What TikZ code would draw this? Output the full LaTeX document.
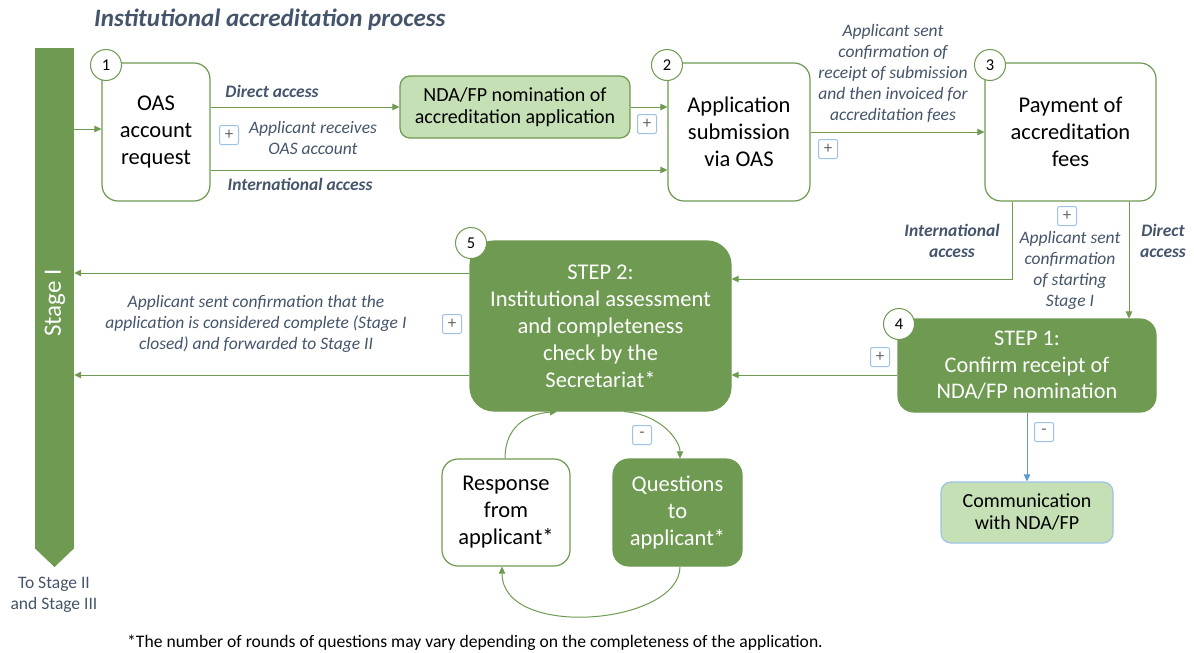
\documentclass[tikz,border=0pt]{standalone}
\usepackage{fontspec}
\setmainfont{Carlito}
\usetikzlibrary{arrows.meta,calc}
\definecolor{gr}{HTML}{6E9A51}
\definecolor{lgr}{HTML}{C5E0B4}
\definecolor{slate}{HTML}{44546A}
\definecolor{lblue}{HTML}{9DC3E6}
\definecolor{blu}{HTML}{5B9BD5}
\tikzset{
  box/.style={draw=gr, line width=1.2pt, fill=white, rounded corners=16pt, align=center, inner sep=0pt, font=\fontsize{22.5}{27}\selectfont},
  gbox/.style={box, fill=gr, text=white},
  lbox/.style={box, fill=lgr, rounded corners=10pt, font=\fontsize{20}{22}\selectfont},
  num/.style={circle, draw=gr, line width=1pt, fill=white, minimum size=31pt, inner sep=0pt, font=\fontsize{16.5}{16.5}\selectfont},
  pbox/.style={draw=lblue, line width=1pt, rounded corners=2pt, fill=white, minimum width=19pt, minimum height=19pt, inner sep=0pt, text=gray!80!black, font=\fontsize{17}{17}\selectfont},
  lab/.style={align=center, text=slate, inner sep=0pt, font=\fontsize{17.5}{21}\selectfont\itshape},
  blab/.style={lab, font=\fontsize{17.5}{21}\selectfont\bfseries\itshape},
  arr/.style={draw=gr, line width=1pt, -{Triangle[length=7pt,width=6.5pt]}},
}
\begin{document}
\begin{tikzpicture}[x=1pt,y=-1pt]
\useasboundingbox (0,0) rectangle (1194,653);
% title
\node[anchor=west, text=slate, inner sep=0pt, font=\fontsize{25}{25}\selectfont\bfseries\itshape] (title) at (94,20) {Institutional accreditation process};
% stage bar
\node[fill=gr, minimum width=39pt, minimum height=500pt, inner sep=0pt] (stage) at (54.5,298) {};
\fill[gr] (stage.south west) -- (stage.south east) -- (54.5,567) -- cycle;
\node[rotate=90, text=white, inner sep=0pt, font=\fontsize{25}{25}\selectfont] (stagetxt) at (55,303) {Stage I};
\node[align=center, text=slate, inner sep=0pt, font=\fontsize{17.5}{21}\selectfont] (tostage) at (54,595) {To Stage II\\and Stage III};
% boxes
\node[box, minimum width=108pt, minimum height=138pt] (n1) at (156,132) {OAS\\account\\request};
\node[lbox, minimum width=230pt, minimum height=62pt] (nda) at (515,107) {NDA/FP nomination of\\accreditation application};
\node[box, minimum width=142pt, minimum height=138pt] (n2) at (739,132) {Application\\submission\\via OAS};
\node[box, minimum width=171pt, minimum height=138pt] (n3) at (1070.5,132) {Payment of\\accreditation\\fees};
\node[gbox, minimum width=261pt, minimum height=170pt, rounded corners=24pt, font=\fontsize{22.5}{27}\selectfont] (s2) at (600.5,326) {STEP 2:\\Institutional assessment\\and completeness\\check by the\\Secretariat*};
\node[gbox, minimum width=258pt, minimum height=93pt, font=\fontsize{22.3}{26.5}\selectfont] (s1) at (1027,365.5) {STEP 1:\\Confirm receipt of\\NDA/FP nomination};
\node[lbox, draw=lblue, minimum width=172pt, minimum height=61pt] (comm) at (1027,512.5) {Communication\\with NDA/FP};
\node[box, minimum width=128pt, minimum height=107pt] (resp) at (506,512.5) {Response\\from\\applicant*};
\node[gbox, minimum width=129pt, minimum height=107pt] (q) at (677.5,512.5) {Questions\\to\\applicant*};
% number circles
\node[num] (c1) at (106,65) {1};
\node[num] (c2) at (667,65) {2};
\node[num] (c3) at (990,65) {3};
\node[num] (c4) at (899,324) {4};
\node[num] (c5) at (471,243) {5};
% connectors
\draw[arr] (stage.east |- 0,129) -- (n1.west |- 0,129);
\draw[arr] (n1.east |- nda.west) -- (nda.west);
\draw[arr] (nda.east) -- (n2.west |- nda.east);
\draw[arr] (n1.east |- 0,170) -- (n2.west |- 0,170);
\draw[arr] (n2.east) -- (n3.west);
\draw[arr] (n3.south -| 1012,0) -- (1012,279) -- (s2.east |- 0,279);
\draw[arr] (n3.south -| 1129,0) -- (s1.north -| 1129,0);
\draw[arr] (s1.west |- 0,375) -- (s2.east |- 0,375);
\draw[arr] (s2.west |- 0,273) -- (stage.east |- 0,273);
\draw[arr] (s2.west |- 0,375) -- (stage.east |- 0,375);
\draw[arr, draw=blu] (s1.south) -- (comm.north);
\draw[arr] (resp.north -| 505,0) .. controls (505,428) and (525,414) .. (s2.south -| 557,0);
\draw[arr] (s2.south -| 624,0) .. controls (660,414) and (680,440) .. (q.north -| 680,0);
\draw[arr] (q.south -| 680,0) .. controls (680,625) and (502,640) .. (resp.south -| 502,0);
% plus / minus boxes
\node[pbox] (p1) at (229,135) {+};
\node[pbox] (p2) at (647,124) {+};
\node[pbox] (p3) at (828,149) {+};
\node[pbox] (p4) at (1067,216) {+};
\node[pbox] (p5) at (452,324) {+};
\node[pbox] (p6) at (880,357) {+};
\node[pbox] (m1) at (642,435) {-};
\node[pbox] (m2) at (1044,432) {-};
% labels
\node[blab] (l1) at (272,91) {Direct access};
\node[blab] (l2) at (300,184) {International access};
\node[lab] (l3) at (313,138) {Applicant receives\\OAS account};
\node[lab] (l4) at (893,73) {Applicant sent\\confirmation of\\receipt of submission\\and then invoiced for\\accreditation fees};
\node[blab] (l5) at (952,241) {International\\access};
\node[lab] (l6) at (1070,270) {Applicant sent\\confirmation\\of starting\\Stage I};
\node[blab] (l7) at (1163,241) {Direct\\access};
\node[lab] (l8) at (256,324) {Applicant sent confirmation that the\\application is considered complete (Stage I\\closed) and forwarded to Stage II};
% footnote
\node[inner sep=0pt, font=\fontsize{17.6}{17.6}\selectfont] (foot) at (475,643) {*The number of rounds of questions may vary depending on the completeness of the application.};
\end{tikzpicture}
\end{document}
